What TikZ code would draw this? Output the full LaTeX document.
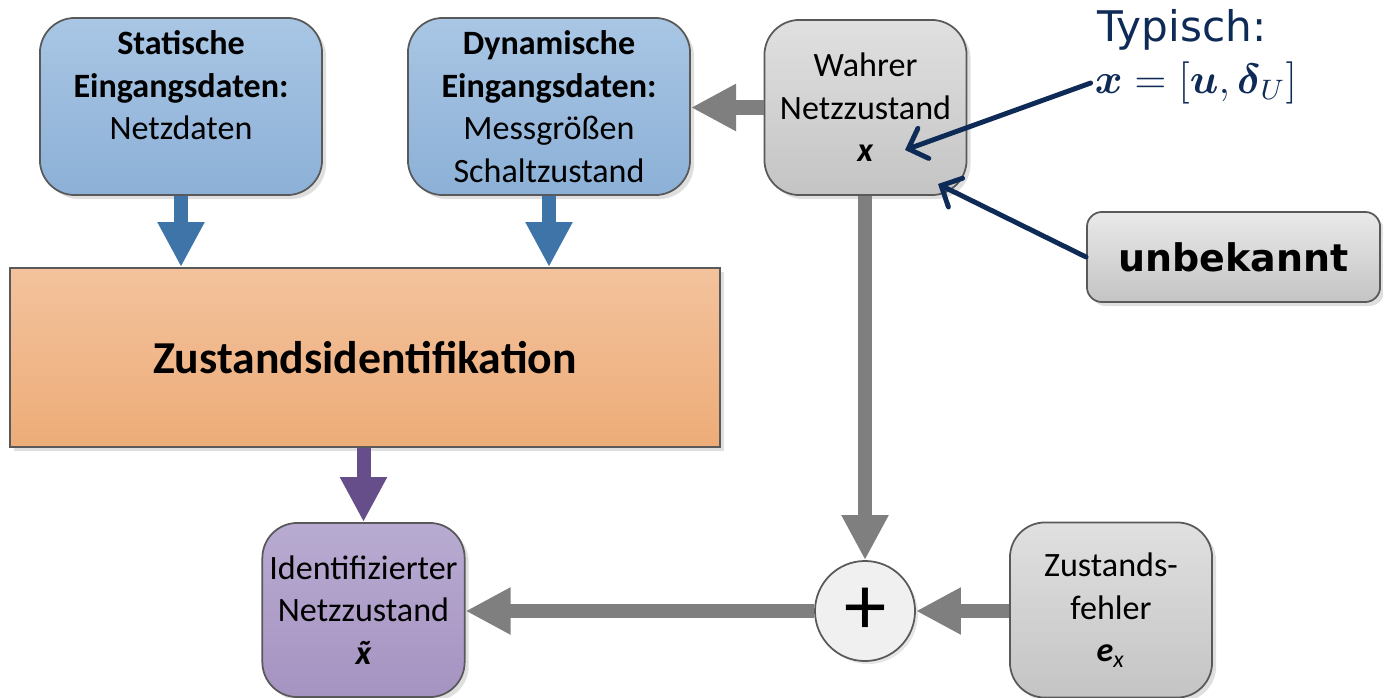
\documentclass[tikz,border=0pt]{standalone}
\usepackage{amsmath}
\usepackage{fontspec}
\setmainfont{Carlito}
\newfontfamily\verdana{DejaVu Sans}
\usetikzlibrary{arrows.meta,shadows}

\definecolor{blueTop}{HTML}{A9C6E4}
\definecolor{blueBot}{HTML}{8CB0D7}
\definecolor{blueArr}{HTML}{3F74A9}
\definecolor{orTop}{HTML}{F3C29C}
\definecolor{orBot}{HTML}{EDAC78}
\definecolor{grTop}{HTML}{E0E0E0}
\definecolor{grBot}{HTML}{C4C4C4}
\definecolor{puTop}{HTML}{B8ABD1}
\definecolor{puBot}{HTML}{A593C1}
\definecolor{puArr}{HTML}{664E8B}
\definecolor{arrGray}{HTML}{7F7F7F}
\definecolor{navy}{HTML}{0E2A56}

\newcommand{\tildex}{\ooalign{x\cr\hidewidth\char"02DC\hidewidth\cr}}

\begin{document}
\begin{tikzpicture}[
    x=0.01cm, y=-0.01cm,
    box/.style={draw=black!65, line width=0.5pt, rounded corners=0.35cm, align=center,
      font=\fontsize{9.7}{12.1}\selectfont, inner sep=2pt,
      drop shadow={opacity=0.25, shadow xshift=0.04cm, shadow yshift=-0.04cm}},
    bluebox/.style={box, top color=blueTop, bottom color=blueBot,
      minimum width=2.82cm, minimum height=1.77cm},
    graybox/.style={box, top color=grTop, bottom color=grBot,
      minimum width=2.02cm, minimum height=1.75cm},
    fat/.style={line width=0.14cm, -{Triangle[length=0.45cm, width=0.44cm]}},
    hint/.style={navy, line width=1.4pt, line cap=round,
      -{Straight Barb[length=0.16cm, width=0.32cm, line cap=round]}}
  ]
  \path[use as bounding box] (0,0) rectangle (1383,697);

  % input boxes
  \node[bluebox] (stat) at (181,106.5) {\textbf{Statische}\\\textbf{Eingangsdaten:}\\Netzdaten\\\mbox{}};
  \node[bluebox] (dyn) at (549,106.5) {\textbf{Dynamische}\\\textbf{Eingangsdaten:}\\Messgrößen\\Schaltzustand};
  \node[graybox] (wahr) at (865.5,107.5) {Wahrer\\Netzzustand\\\textbf{\textit{x}}};

  % identification
  \node[box, rounded corners=0pt, top color=orTop, bottom color=orBot,
    minimum width=7.1cm, minimum height=1.79cm,
    font=\fontsize{13}{15}\selectfont\bfseries] (zust) at (365,357.5) {Zustandsidentifikation};

  % result and error
  \node[box, top color=puTop, bottom color=puBot, minimum width=1.97cm,
    minimum height=1.74cm] (ident) at (363.5,610) {Identifizierter\\Netzzustand\\\textbf{\textit{\tildex}}};
  \node[graybox] (fehler) at (1111,610) {Zustands-\\fehler\\\textbf{\textit{e}}\textsubscript{\textit{x}}};
  \node[circle, draw=black!65, line width=0.5pt, fill=black!6, minimum size=1cm, inner sep=0pt,
    font=\fontsize{24}{24}\selectfont,
    drop shadow={opacity=0.2, shadow xshift=0.03cm, shadow yshift=-0.03cm}] (plus) at (865,611) {+};

  % annotations
  \node[box, rounded corners=0.15cm, top color=grTop!70!white, bottom color=grBot,
    minimum width=2.93cm, minimum height=0.9cm,
    font=\verdana\fontsize{10.8}{13}\selectfont\bfseries] (unbek) at (1233.5,257) {unbekannt};
  \node[navy, font=\verdana\fontsize{12}{14}\selectfont] (typ) at (1182,30) {Typisch:};
  \node[navy, font=\fontsize{12}{14}\selectfont, inner sep=1pt] (form) at (1196,83)
    {$\boldsymbol{x} = [\boldsymbol{u}, \boldsymbol{\delta}_U]$};
  \coordinate (wahrX) at (905,150);
  \coordinate (wahrC) at (938,184);

  % flows
  \draw[fat, blueArr] (stat.south) -- (stat.south |- zust.north);
  \draw[fat, blueArr] (dyn.south) -- (dyn.south |- zust.north);
  \draw[fat, puArr] (zust.south -| ident.north) -- (ident.north);
  \draw[fat, arrGray] (wahr.west) -- (dyn.east |- wahr.west);
  \draw[fat, arrGray] (wahr.south -| plus.north) -- (plus.north);
  \draw[fat, arrGray] (fehler.west |- plus.east) -- (plus.east);
  \draw[fat, arrGray] (plus.west) -- (ident.east |- plus.west);

  \draw[hint] (form.west) -- (wahrX);
  \draw[hint] (unbek.west) -- (wahrC);
\end{tikzpicture}
\end{document}
